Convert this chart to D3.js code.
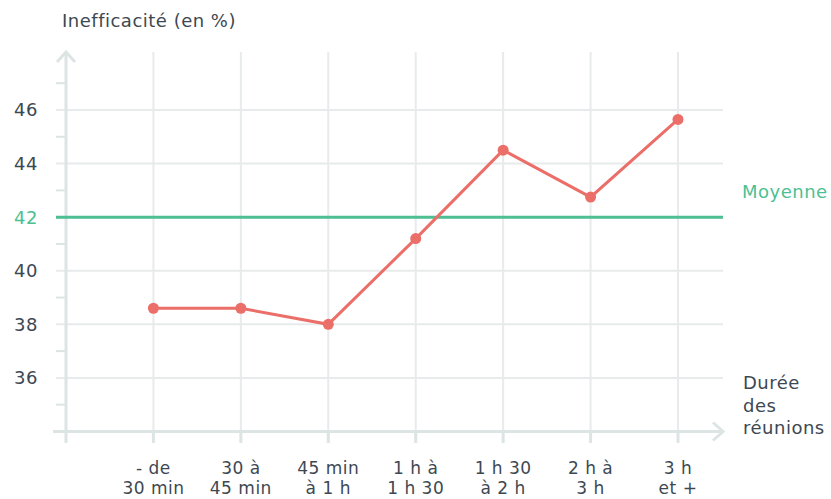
<!DOCTYPE html>
<html>
<head>
<meta charset="utf-8">
<script src="https://cdn.jsdelivr.net/npm/d3@7"></script>
<style>
  body { margin: 0; background: #fff; }
  text { font-family: "DejaVu Sans", "Noto Sans", sans-serif; fill: #3d4852; letter-spacing: 0.5px; }
</style>
</head>
<body>
<div id="chart"></div>
<script>
// data
var categories = [["- de", "30 min"], ["30 à", "45 min"], ["45 min", "à 1 h"],
                  ["1 h à", "1 h 30"], ["1 h 30", "à 2 h"], ["2 h à", "3 h"], ["3 h", "et +"]];
var values = [38.6, 38.6, 38.0, 41.2, 44.5, 42.75, 45.65];
var yTicks = [36, 38, 40, 42, 44, 46];
var yMinor = [35, 37, 39, 41, 43, 45, 47];
var average = 42;

var width = 831,
    height = 499,
    line_color = '#eb6e68',
    avg_color = '#4dbf92',
    grid_color = '#e8ebeb',
    axis_color = '#dde4e4';

var svg = d3.select('#chart').append('svg')
    .attr('width', width)
    .attr('height', height);

// scales: index -1 is the y axis position
var x = d3.scaleLinear().domain([-1, 6]).range([66, 678]);
var y = d3.scaleLinear().domain([34, 46]).range([431.5, 110]);

// vertical grid
svg.selectAll('.vgrid').data(categories).enter().append('line')
    .attr('x1', function(d, i) { return x(i); })
    .attr('x2', function(d, i) { return x(i); })
    .attr('y1', 52)
    .attr('y2', 443)
    .attr('stroke', grid_color)
    .attr('stroke-width', 2);

// horizontal grid
svg.selectAll('.hgrid').data(yTicks).enter().append('line')
    .attr('x1', 56)
    .attr('x2', 723)
    .attr('y1', function(d) { return y(d); })
    .attr('y2', function(d) { return y(d); })
    .attr('stroke', grid_color)
    .attr('stroke-width', 2);

// minor ticks on y axis
svg.selectAll('.minor').data(yMinor).enter().append('line')
    .attr('x1', 56)
    .attr('x2', 66)
    .attr('y1', function(d) { return y(d); })
    .attr('y2', function(d) { return y(d); })
    .attr('stroke', axis_color)
    .attr('stroke-width', 2);

// y axis with arrow
svg.append('line')
    .attr('x1', x(-1)).attr('x2', x(-1))
    .attr('y1', 443).attr('y2', 52)
    .attr('stroke', axis_color)
    .attr('stroke-width', 3);
svg.append('path')
    .attr('d', 'M' + (x(-1) - 9) + ',' + 62 + ' L' + x(-1) + ',' + 52 + ' L' + (x(-1) + 9) + ',' + 62)
    .attr('fill', 'none')
    .attr('stroke', axis_color)
    .attr('stroke-width', 3);

// x axis with arrow
svg.append('line')
    .attr('x1', 53).attr('x2', 723)
    .attr('y1', y(34)).attr('y2', y(34))
    .attr('stroke', axis_color)
    .attr('stroke-width', 3);
svg.append('path')
    .attr('d', 'M' + 713 + ',' + (y(34) - 9) + ' L' + 723 + ',' + y(34) + ' L' + 713 + ',' + (y(34) + 9))
    .attr('fill', 'none')
    .attr('stroke', axis_color)
    .attr('stroke-width', 3);

// x ticks below axis
svg.selectAll('.xtick').data(categories).enter().append('line')
    .attr('x1', function(d, i) { return x(i); })
    .attr('x2', function(d, i) { return x(i); })
    .attr('y1', y(34))
    .attr('y2', 443)
    .attr('stroke', axis_color)
    .attr('stroke-width', 3);

// y tick labels
svg.selectAll('.ylabel').data(yTicks).enter().append('text')
    .attr('x', 38)
    .attr('y', function(d) { return y(d); })
    .attr('dy', '0.36em')
    .attr('text-anchor', 'end')
    .style('font-size', '18px')
    .style('fill', function(d) { return d === average ? avg_color : '#3d4852'; })
    .text(function(d) { return d; });

// x labels (two lines)
var xl = svg.selectAll('.xlabel').data(categories).enter().append('text')
    .attr('text-anchor', 'middle')
    .style('font-size', '17px');
xl.append('tspan')
    .attr('x', function(d, i) { return x(i); })
    .attr('y', 474)
    .text(function(d) { return d[0]; });
xl.append('tspan')
    .attr('x', function(d, i) { return x(i); })
    .attr('y', 494)
    .text(function(d) { return d[1]; });

// average line
svg.append('line')
    .attr('x1', 56).attr('x2', 723)
    .attr('y1', y(average)).attr('y2', y(average))
    .attr('stroke', avg_color)
    .attr('stroke-width', 3);
svg.append('text')
    .attr('x', 742)
    .attr('y', 198)
    .style('font-size', '18px')
    .style('fill', avg_color)
    .text('Moyenne');

// data line
var line = d3.line()
    .x(function(d, i) { return x(i); })
    .y(function(d) { return y(d); });
svg.append('path')
    .datum(values)
    .attr('d', line)
    .attr('fill', 'none')
    .attr('stroke', line_color)
    .attr('stroke-width', 3);
svg.selectAll('.dot').data(values).enter().append('circle')
    .attr('cx', function(d, i) { return x(i); })
    .attr('cy', function(d) { return y(d); })
    .attr('r', 5.5)
    .attr('fill', line_color);

// titles
svg.append('text')
    .attr('x', 62)
    .attr('y', 27)
    .style('font-size', '18px')
    .text('Inefficacité (en %)');

var xt = svg.append('text')
    .attr('x', 743)
    .style('font-size', '18px');
['Durée', 'des', 'réunions'].forEach(function(s, i) {
    xt.append('tspan').attr('x', 743).attr('y', 389 + i * 22.5).text(s);
});
</script>
</body>
</html>
